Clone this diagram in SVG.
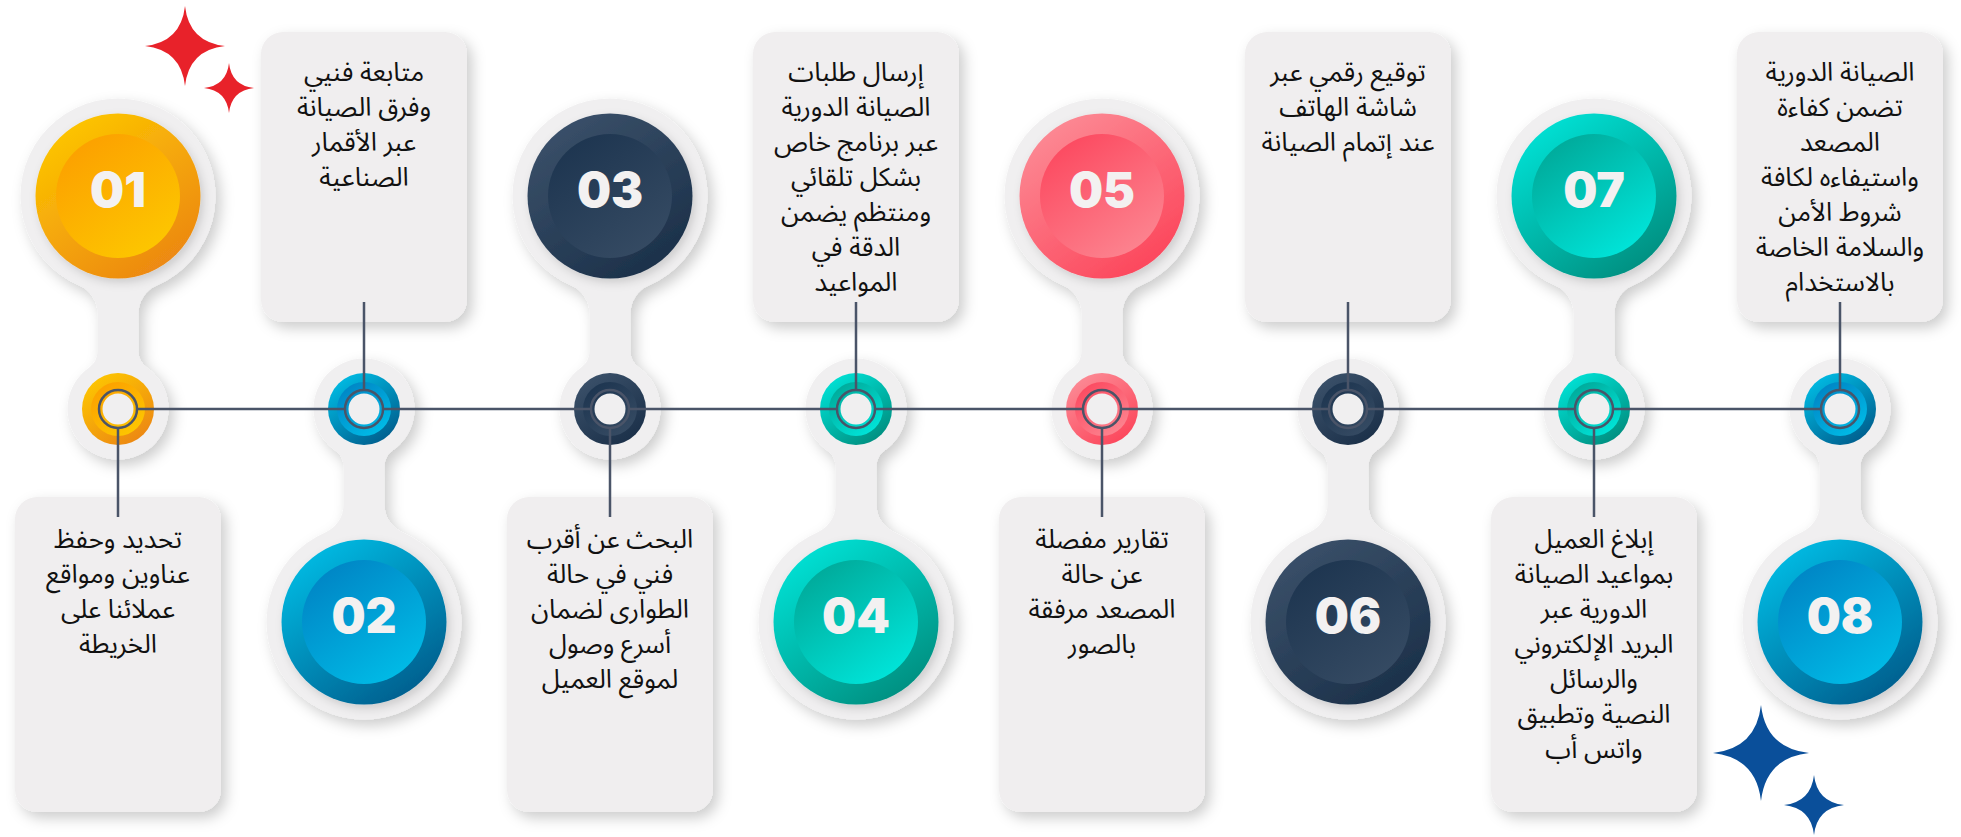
<svg xmlns="http://www.w3.org/2000/svg" xmlns:xlink="http://www.w3.org/1999/xlink" width="1961" height="837" viewBox="0 0 1961 837">
<style>
.halo{fill:#f0eff0}
.box{fill:#f0eeef}
.num{font-family:Inter,"Liberation Sans",sans-serif;font-weight:900;font-size:48px;fill:#f3f1f1;text-anchor:middle}
.txt{font-family:"Noto Sans Arabic","Noto Sans Arabic UI","DejaVu Sans",sans-serif;font-size:26px;fill:#111;text-anchor:middle}
.con{stroke:#4a5468;stroke-width:2.5;fill:none}
.ring{fill:none;stroke:#4a5468;stroke-width:2.5}
.hole{fill:#f0eff0}
.starR{fill:#e8222a}
.starB{fill:#0a4f9a}
</style>
<defs>
<filter id="sh" x="-30%" y="-30%" width="160%" height="160%">
<feDropShadow dx="5" dy="6" stdDeviation="7" flood-color="#000" flood-opacity="0.2"/>
</filter>
<filter id="sh2" x="-30%" y="-30%" width="160%" height="160%">
<feDropShadow dx="3" dy="4" stdDeviation="5" flood-color="#000" flood-opacity="0.15"/>
</filter>
<path id="halo" d="M38.6 285.6 A30 30 0 0 0 20.5 313.1 L20.5 351.3 A20 20 0 0 0 29 367.7 A50.5 50.5 0 1 1 -29 367.7 A20 20 0 0 0 -20.5 351.3 L-20.5 313.1 A30 30 0 0 0 -38.6 285.6 A97.5 97.5 0 1 1 38.6 285.6 Z"/>
<linearGradient id="oY" x1="0.15" y1="0" x2="0.85" y2="1"><stop offset="0" stop-color="#fec900"/><stop offset="1" stop-color="#eb8314"/></linearGradient>
<linearGradient id="iY" x1="0.15" y1="0" x2="0.85" y2="1"><stop offset="0" stop-color="#fc9e00"/><stop offset="1" stop-color="#fdc900"/></linearGradient>
<linearGradient id="oB" x1="0.15" y1="0" x2="0.85" y2="1"><stop offset="0" stop-color="#00c0e8"/><stop offset="1" stop-color="#005888"/></linearGradient>
<linearGradient id="iB" x1="0.15" y1="0" x2="0.85" y2="1"><stop offset="0" stop-color="#0082c3"/><stop offset="1" stop-color="#00bfe9"/></linearGradient>
<linearGradient id="oN" x1="0.15" y1="0" x2="0.85" y2="1"><stop offset="0" stop-color="#3c526b"/><stop offset="1" stop-color="#192e47"/></linearGradient>
<linearGradient id="iN" x1="0.15" y1="0" x2="0.85" y2="1"><stop offset="0" stop-color="#1c344f"/><stop offset="1" stop-color="#374c64"/></linearGradient>
<linearGradient id="oT" x1="0.15" y1="0" x2="0.85" y2="1"><stop offset="0" stop-color="#00e6da"/><stop offset="1" stop-color="#00897a"/></linearGradient>
<linearGradient id="iT" x1="0.15" y1="0" x2="0.85" y2="1"><stop offset="0" stop-color="#00a696"/><stop offset="1" stop-color="#00e9de"/></linearGradient>
<linearGradient id="oR" x1="0.15" y1="0" x2="0.85" y2="1"><stop offset="0" stop-color="#fc8e98"/><stop offset="1" stop-color="#fc4157"/></linearGradient>
<linearGradient id="iR" x1="0.15" y1="0" x2="0.85" y2="1"><stop offset="0" stop-color="#fc465d"/><stop offset="1" stop-color="#fc8893"/></linearGradient>
</defs>
<rect width="1961" height="837" fill="#ffffff"/>

<g id="stars">
<path class="starR" d="M185 6 Q189 42 225 46 Q189 50 185 86 Q181 50 145 46 Q181 42 185 6 Z"/>
<path class="starR" d="M229 63 Q231.5 85.5 254 88 Q231.5 90.5 229 113 Q226.5 90.5 204 88 Q226.5 85.5 229 63 Z"/>
<path class="starB" d="M1761 705 Q1765.8 748.2 1809 753 Q1765.8 757.8 1761 801 Q1756.2 757.8 1713 753 Q1756.2 748.2 1761 705 Z"/>
<path class="starB" d="M1814 775 Q1817 802 1844 805 Q1817 808 1814 835 Q1811 808 1784 805 Q1811 802 1814 775 Z"/>
</g>

<g id="node01">
<g filter="url(#sh)"><use xlink:href="#halo" class="halo" transform="translate(118,0)"/></g>
<g filter="url(#sh2)"><circle cx="118" cy="196" r="82.5" fill="url(#oY)"/></g>
<circle cx="118" cy="196" r="62" fill="url(#iY)"/>
<text class="num" x="118" y="207">01</text>
<circle cx="118" cy="409" r="36" fill="url(#oY)"/>
<circle cx="118" cy="409" r="27" fill="url(#iY)"/>
<circle class="hole" cx="118" cy="409" r="15.5"/>
<circle class="ring" cx="118" cy="409" r="19"/>
<rect class="box" filter="url(#sh)" x="15" y="497" width="206" height="315" rx="22"/>
<text class="txt" x="118" y="548">تحديد وحفظ</text>
<text class="txt" x="118" y="583">عناوين ومواقع</text>
<text class="txt" x="118" y="618">عملائنا على</text>
<text class="txt" x="118" y="653">الخريطة</text>
</g>

<g id="node02">
<g filter="url(#sh)"><use xlink:href="#halo" class="halo" transform="translate(364,818) scale(1,-1)"/></g>
<g filter="url(#sh2)"><circle cx="364" cy="622" r="82.5" fill="url(#oB)"/></g>
<circle cx="364" cy="622" r="62" fill="url(#iB)"/>
<text class="num" x="364" y="633">02</text>
<circle cx="364" cy="409" r="36" fill="url(#oB)"/>
<circle cx="364" cy="409" r="27" fill="url(#iB)"/>
<circle class="hole" cx="364" cy="409" r="15.5"/>
<circle class="ring" cx="364" cy="409" r="19"/>
<rect class="box" filter="url(#sh)" x="261" y="32" width="206" height="290" rx="22"/>
<text class="txt" x="364" y="81">متابعة فنيي</text>
<text class="txt" x="364" y="116">وفرق الصيانة</text>
<text class="txt" x="364" y="151">عبر الأقمار</text>
<text class="txt" x="364" y="186">الصناعية</text>
</g>

<g id="node03">
<g filter="url(#sh)"><use xlink:href="#halo" class="halo" transform="translate(610,0)"/></g>
<g filter="url(#sh2)"><circle cx="610" cy="196" r="82.5" fill="url(#oN)"/></g>
<circle cx="610" cy="196" r="62" fill="url(#iN)"/>
<text class="num" x="610" y="207">03</text>
<circle cx="610" cy="409" r="36" fill="url(#oN)"/>
<circle cx="610" cy="409" r="27" fill="url(#iN)"/>
<circle class="hole" cx="610" cy="409" r="15.5"/>
<circle class="ring" cx="610" cy="409" r="19"/>
<rect class="box" filter="url(#sh)" x="507" y="497" width="206" height="315" rx="22"/>
<text class="txt" x="610" y="548">البحث عن أقرب</text>
<text class="txt" x="610" y="583">فني في حالة</text>
<text class="txt" x="610" y="618">الطوارى لضمان</text>
<text class="txt" x="610" y="653">أسرع وصول</text>
<text class="txt" x="610" y="688">لموقع العميل</text>
</g>

<g id="node04">
<g filter="url(#sh)"><use xlink:href="#halo" class="halo" transform="translate(856,818) scale(1,-1)"/></g>
<g filter="url(#sh2)"><circle cx="856" cy="622" r="82.5" fill="url(#oT)"/></g>
<circle cx="856" cy="622" r="62" fill="url(#iT)"/>
<text class="num" x="856" y="633">04</text>
<circle cx="856" cy="409" r="36" fill="url(#oT)"/>
<circle cx="856" cy="409" r="27" fill="url(#iT)"/>
<circle class="hole" cx="856" cy="409" r="15.5"/>
<circle class="ring" cx="856" cy="409" r="19"/>
<rect class="box" filter="url(#sh)" x="753" y="32" width="206" height="290" rx="22"/>
<text class="txt" x="856" y="81">إرسال طلبات</text>
<text class="txt" x="856" y="116">الصيانة الدورية</text>
<text class="txt" x="856" y="151">عبر برنامج خاص</text>
<text class="txt" x="856" y="186">بشكل تلقائي</text>
<text class="txt" x="856" y="221">ومنتظم يضمن</text>
<text class="txt" x="856" y="256">الدقة في</text>
<text class="txt" x="856" y="291">المواعيد</text>
</g>

<g id="node05">
<g filter="url(#sh)"><use xlink:href="#halo" class="halo" transform="translate(1102,0)"/></g>
<g filter="url(#sh2)"><circle cx="1102" cy="196" r="82.5" fill="url(#oR)"/></g>
<circle cx="1102" cy="196" r="62" fill="url(#iR)"/>
<text class="num" x="1102" y="207">05</text>
<circle cx="1102" cy="409" r="36" fill="url(#oR)"/>
<circle cx="1102" cy="409" r="27" fill="url(#iR)"/>
<circle class="hole" cx="1102" cy="409" r="15.5"/>
<circle class="ring" cx="1102" cy="409" r="19"/>
<rect class="box" filter="url(#sh)" x="999" y="497" width="206" height="315" rx="22"/>
<text class="txt" x="1102" y="548">تقارير مفصلة</text>
<text class="txt" x="1102" y="583">عن حالة</text>
<text class="txt" x="1102" y="618">المصعد مرفقة</text>
<text class="txt" x="1102" y="653">بالصور</text>
</g>

<g id="node06">
<g filter="url(#sh)"><use xlink:href="#halo" class="halo" transform="translate(1348,818) scale(1,-1)"/></g>
<g filter="url(#sh2)"><circle cx="1348" cy="622" r="82.5" fill="url(#oN)"/></g>
<circle cx="1348" cy="622" r="62" fill="url(#iN)"/>
<text class="num" x="1348" y="633">06</text>
<circle cx="1348" cy="409" r="36" fill="url(#oN)"/>
<circle cx="1348" cy="409" r="27" fill="url(#iN)"/>
<circle class="hole" cx="1348" cy="409" r="15.5"/>
<circle class="ring" cx="1348" cy="409" r="19"/>
<rect class="box" filter="url(#sh)" x="1245" y="32" width="206" height="290" rx="22"/>
<text class="txt" x="1348" y="81">توقيع رقمي عبر</text>
<text class="txt" x="1348" y="116">شاشة الهاتف</text>
<text class="txt" x="1348" y="151">عند إتمام الصيانة</text>
</g>

<g id="node07">
<g filter="url(#sh)"><use xlink:href="#halo" class="halo" transform="translate(1594,0)"/></g>
<g filter="url(#sh2)"><circle cx="1594" cy="196" r="82.5" fill="url(#oT)"/></g>
<circle cx="1594" cy="196" r="62" fill="url(#iT)"/>
<text class="num" x="1594" y="207">07</text>
<circle cx="1594" cy="409" r="36" fill="url(#oT)"/>
<circle cx="1594" cy="409" r="27" fill="url(#iT)"/>
<circle class="hole" cx="1594" cy="409" r="15.5"/>
<circle class="ring" cx="1594" cy="409" r="19"/>
<rect class="box" filter="url(#sh)" x="1491" y="497" width="206" height="315" rx="22"/>
<text class="txt" x="1594" y="548">إبلاغ العميل</text>
<text class="txt" x="1594" y="583">بمواعيد الصيانة</text>
<text class="txt" x="1594" y="618">الدورية عبر</text>
<text class="txt" x="1594" y="653">البريد الإلكتروني</text>
<text class="txt" x="1594" y="688">والرسائل</text>
<text class="txt" x="1594" y="723">النصية وتطبيق</text>
<text class="txt" x="1594" y="758">واتس أب</text>
</g>

<g id="node08">
<g filter="url(#sh)"><use xlink:href="#halo" class="halo" transform="translate(1840,818) scale(1,-1)"/></g>
<g filter="url(#sh2)"><circle cx="1840" cy="622" r="82.5" fill="url(#oB)"/></g>
<circle cx="1840" cy="622" r="62" fill="url(#iB)"/>
<text class="num" x="1840" y="633">08</text>
<circle cx="1840" cy="409" r="36" fill="url(#oB)"/>
<circle cx="1840" cy="409" r="27" fill="url(#iB)"/>
<circle class="hole" cx="1840" cy="409" r="15.5"/>
<circle class="ring" cx="1840" cy="409" r="19"/>
<rect class="box" filter="url(#sh)" x="1737" y="32" width="206" height="290" rx="22"/>
<text class="txt" x="1840" y="81">الصيانة الدورية</text>
<text class="txt" x="1840" y="116">تضمن كفاءة</text>
<text class="txt" x="1840" y="151">المصعد</text>
<text class="txt" x="1840" y="186">واستيفاءه لكافة</text>
<text class="txt" x="1840" y="221">شروط الأمن</text>
<text class="txt" x="1840" y="256">والسلامة الخاصة</text>
<text class="txt" x="1840" y="291">بالاستخدام</text>
</g>

<g id="connectors">
<path class="con" d="M137 409 H345 M383 409 H591 M629 409 H837 M875 409 H1083 M1121 409 H1329 M1367 409 H1575 M1613 409 H1821"/>
<path class="con" d="M118 428 V517 M610 428 V517 M1102 428 V517 M1594 428 V517"/>
<path class="con" d="M364 302 V390 M856 302 V390 M1348 302 V390 M1840 302 V390"/>
</g>
</svg>
